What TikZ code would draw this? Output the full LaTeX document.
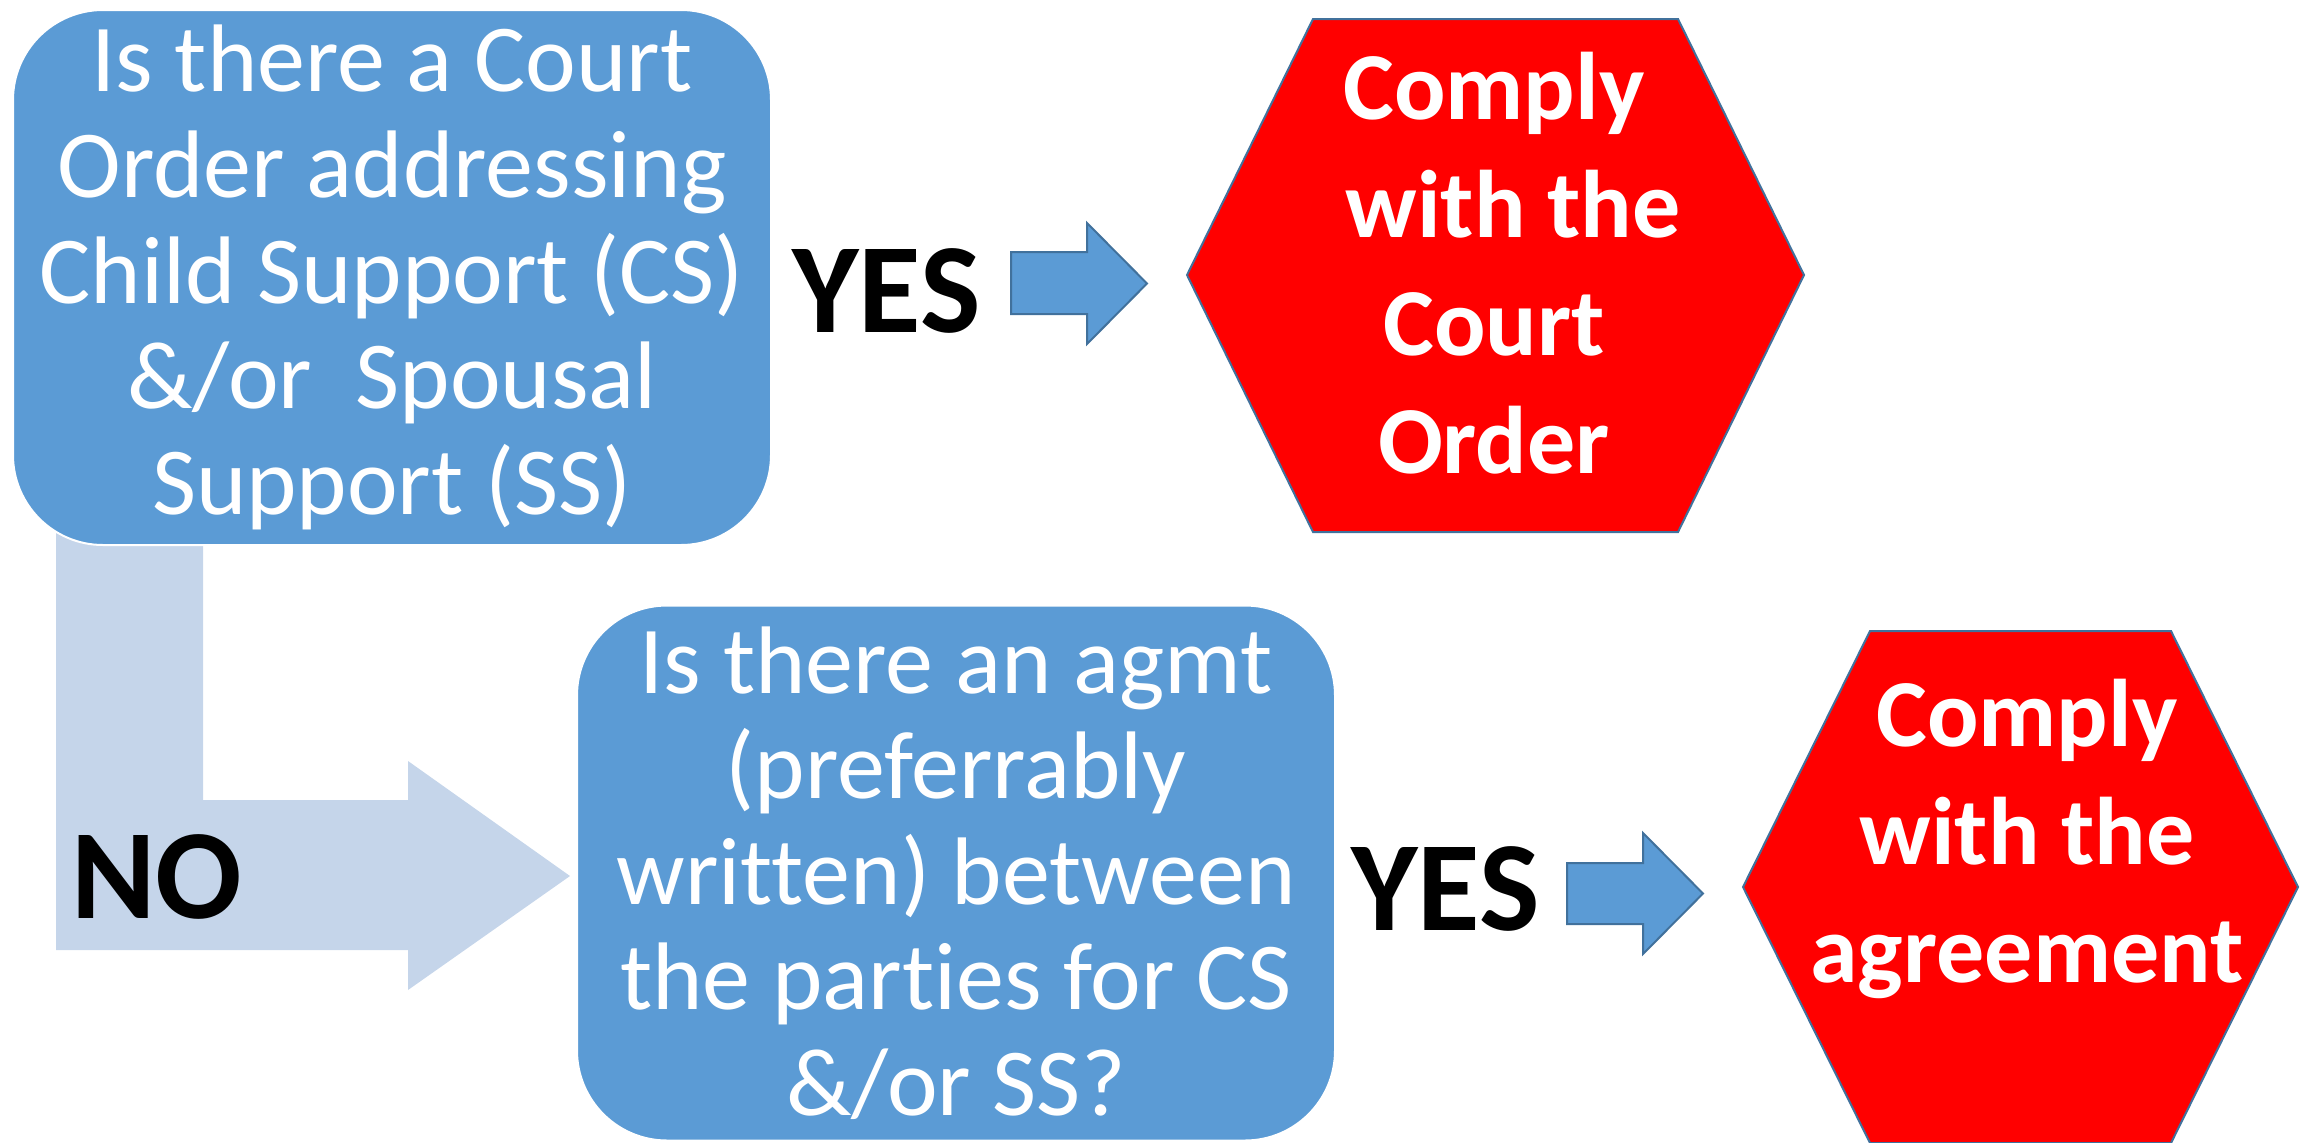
\documentclass[tikz,border=0pt]{standalone}
\usepackage{fontspec}
\setmainfont{Carlito}[Ligatures={NoCommon}]
\definecolor{boxblue}{RGB}{91,155,213}
\definecolor{edgeblue}{RGB}{65,113,156}
\definecolor{lightblue}{RGB}{197,213,234}
\definecolor{hexred}{RGB}{255,0,0}
\tikzset{
  qbox/.style={draw=white, line width=1pt, fill=boxblue, rounded corners=45pt,
    minimum width=379pt, minimum height=267.5pt, inner sep=0pt, text=white,
    align=center, font=\fontsize{48}{52.8}\selectfont},
  hexshape/.style={draw=edgeblue, line width=1pt, fill=hexred},
  hextext/.style={text=white, align=center, inner sep=0pt,
    font=\bfseries\fontsize{48}{59}\selectfont},
  blockarrow/.style={draw=edgeblue, line width=1pt, fill=boxblue, line join=miter},
  noarrow/.style={fill=lightblue},
  answer/.style={anchor=base, inner sep=0pt, text=black,
    font=\bfseries\fontsize{64}{70}\selectfont}
}
\begin{document}
\begin{tikzpicture}[x=0.5pt, y=-0.5pt]
\useasboundingbox (0,0) rectangle (2303,1142);
% bent NO arrow (behind the first box)
\path[noarrow] (56,480) -- (203,480) -- (203,800) -- (408,800) -- (408,761)
  -- (570,876) -- (408,990) -- (408,950) -- (56,950) -- cycle;
% question boxes
\node[qbox] (q1) at (392,277.5) {Is there a Court\\Order addressing\\Child Support (CS)\\\&/or\ \ Spousal\\Support (SS)};
\node[qbox] (q2) at (956,873) {Is there an agmt\\(preferrably\\written) between\\the parties for CS\\\&/or SS?};
% YES arrows
\path[blockarrow] (1011,252) -- (1087,252) -- (1087,223) -- (1147,283.5)
  -- (1087,344) -- (1087,314) -- (1011,314) -- cycle;
\path[blockarrow] (1567,863) -- (1643,863) -- (1643,833) -- (1703,893.5)
  -- (1643,954) -- (1643,924) -- (1567,924) -- cycle;
% hexagons
\path[hexshape] (1187,275) -- (1313,19) -- (1678,19) -- (1804,275)
  -- (1678,532) -- (1313,532) -- cycle;
\path[hexshape] (1743,887) -- (1870,631) -- (2171,631) -- (2298,887)
  -- (2171,1143) -- (1870,1143) -- cycle;
\node[hextext] (c1) at (1494,263.5) {Comply\\\hspace*{0.4em}with the\\Court\\Order};
\node[hextext] (c2) at (2027,839) {Comply\\with the\\agreement};
% labels
\node[answer] (yes1) at (886.5,332) {YES};
\node[answer] (yes2) at (1445.5,930) {YES};
\node[answer] (no) at (157,918) {NO};
\end{tikzpicture}
\end{document}
